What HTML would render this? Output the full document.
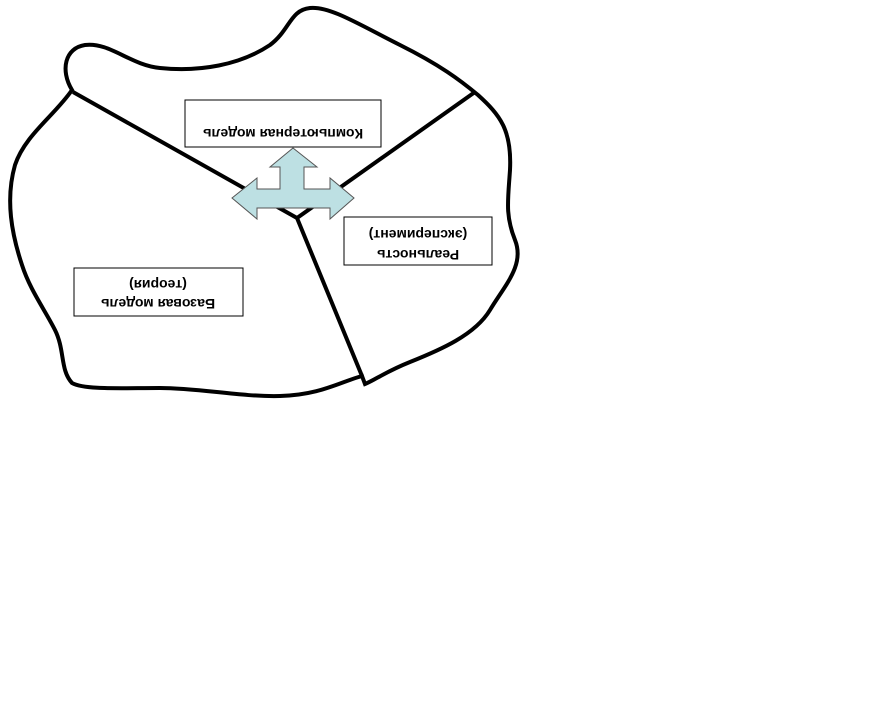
<!DOCTYPE html>
<html><head><meta charset="utf-8"><style>
html,body{margin:0;padding:0;background:#fff;width:888px;height:710px;overflow:hidden}
</style></head><body>
<svg width="888" height="710" viewBox="0 0 888 710" xmlns="http://www.w3.org/2000/svg">
<path d="M72,90 C60,70 65,48 85,45 C110,42 130,65 160,68 C200,72 240,65 270,45 C290,30 290,10 310,8 C330,6 360,25 400,45 C440,65 460,80 478,95 C500,115 512,130 510,170 C508,200 505,215 515,240 C525,265 505,285 490,310 C475,335 440,350 410,362 C385,372 375,380 365,384 L362,376 C340,382 320,395 280,396 C240,397 200,388 160,388 C120,388 85,390 72,383 C60,370 65,350 55,330 C45,310 30,290 22,265 C12,235 5,200 15,165 C25,135 55,115 72,90 Z" fill="none" stroke="#000" stroke-width="4"/>
<path d="M73,92 L297,218 L475,92 M297,218 L362,376" fill="none" stroke="#000" stroke-width="4"/>
<rect x="185" y="100" width="196" height="47" fill="#fff" stroke="#000" stroke-width="1"/>
<rect x="344" y="217" width="148" height="48" fill="#fff" stroke="#000" stroke-width="1"/>
<rect x="74" y="268" width="169" height="48" fill="#fff" stroke="#000" stroke-width="1"/>
<g font-family="Liberation Sans, sans-serif" font-weight="bold" font-size="14" text-anchor="middle" fill="#000">
<text transform="translate(283,129) rotate(180)">Компьютерная модель</text>
<text transform="translate(418,250) rotate(180)">Реальность</text>
<text transform="translate(418,230) rotate(180)">(эксперимент)</text>
<text transform="translate(158,299) rotate(180)">Базовая модель</text>
<text transform="translate(158,280) rotate(180)">(теория)</text>
</g>
<path d="M293,148 L317,167 L304,167 L304,189 L330,189 L330,178 L354,198 L330,219 L330,208 L257,208 L257,219 L232,198 L257,178 L257,189 L280,189 L280,167 L270,167 Z" fill="#bde0e3" stroke="#555" stroke-width="1"/>
</svg>
</body></html>
